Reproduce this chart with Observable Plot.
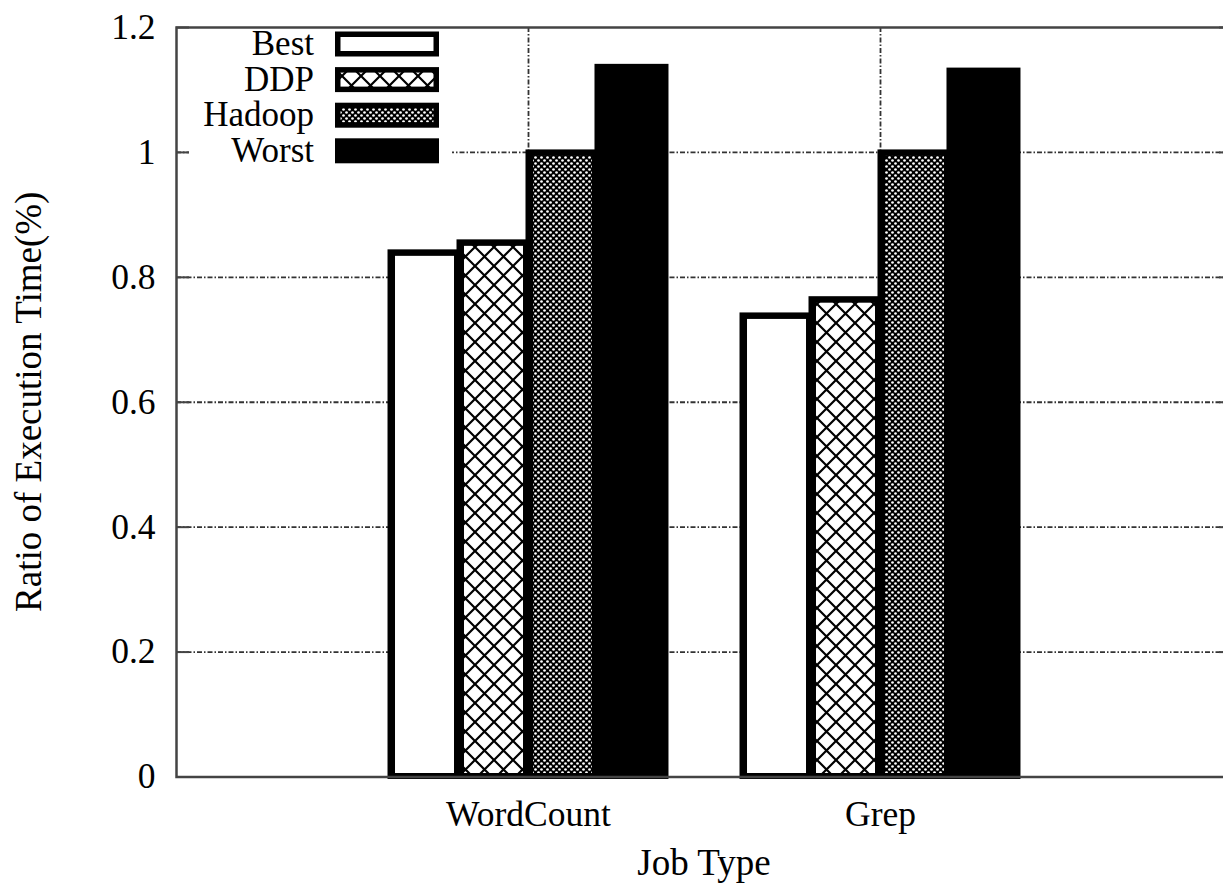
<!DOCTYPE html>
<html>
<head>
<meta charset="utf-8">
<script src="https://cdn.jsdelivr.net/npm/d3@7"></script>
<script src="https://cdn.jsdelivr.net/npm/@observablehq/plot@0.6"></script>
<style>
  html, body { margin: 0; padding: 0; background: #fff; overflow: hidden; }
  #chart svg { display: block; max-width: none !important; font-family: "Liberation Serif", "Times New Roman", serif; }
</style>
</head>
<body>
<div id="chart"></div>
<script>
// ---- data ----
const categories = ["WordCount", "Grep"];
const series = ["Best", "DDP", "Hadoop", "Worst"];
const best = [0.840, 0.739];
const ddp = [0.856, 0.765];
const hadoop = [1.0, 1.0];
const worst = [1.137, 1.131];
const yTicks = [0, 0.2, 0.4, 0.6, 0.8, 1, 1.2];
const yTickLabels = ["0", "0.2", "0.4", "0.6", "0.8", "1", "1.2"];
const xLabel = "Job Type";
const yLabel = "Ratio of Execution Time(%)";

// ---- styling ----
const seriesValues = [best, ddp, hadoop, worst];
const fills = ["white", "url(#pDDP)", "url(#pHadoop)", "black"];
const W = 1240, H = 888;
const mL = 176, mR = 8, mT = 27, mB = 111.5;
const innerW = W - mL - mR;
const barW = 0.196;
const FONT = "'Liberation Serif', 'Times New Roman', serif";
const gridStyle = {stroke: "#333", strokeWidth: 1.8, strokeDasharray: "5,2,1.5,2"};

const table = categories.flatMap((c, ci) =>
  series.map((s, si) => ({category: c, series: s, ci, si, value: seriesValues[si][ci]}))
);
const x1 = d => d.ci + 1 - 2 * barW + d.si * barW;
const x2 = d => x1(d) + barW;

const chart = Plot.plot({
  width: W,
  height: H,
  marginLeft: mL,
  marginRight: mR,
  marginTop: mT,
  marginBottom: mB,
  style: {fontFamily: FONT, fontSize: "35.5px", background: "white", color: "black", maxWidth: "none"},
  x: {domain: [0, categories.length + 1], axis: null},
  y: {domain: [0, 1.2], axis: null},
  color: {domain: series, range: fills},
  marks: [
    Plot.ruleY(yTicks.filter(t => t > 0 && t < 1.2), gridStyle),
    Plot.ruleX(categories.map((c, i) => i + 1), gridStyle),
    Plot.rect(table, {x1, x2, y1: 0, y2: "value", fill: "black", inset: -2.5}),
    Plot.rect(table, {x1, x2, y1: 0, y2: "value", fill: "series",
      insetLeft: 5, insetRight: 5, insetTop: 4, insetBottom: 3.5}),
    Plot.frame({stroke: "#444", strokeWidth: 2.5}),
    Plot.ruleY(yTicks, {stroke: "#444", strokeWidth: 2, insetRight: innerW - 13}),
    Plot.ruleY(yTicks, {stroke: "#444", strokeWidth: 2, insetLeft: innerW - 13}),
    Plot.axisY({ticks: yTicks, tickFormat: d => yTickLabels[yTicks.indexOf(d)],
      tickSize: 0, tickPadding: 21, label: null, fontSize: 35.5}),
    Plot.axisX({ticks: categories.map((c, i) => i + 1), tickFormat: d => categories[d - 1],
      tickSize: 0, tickPadding: 23.5, label: null, fontSize: 35.5})
  ]
});

document.getElementById("chart").appendChild(chart);
const svg = d3.select(chart);

// patterns
const defs = svg.insert("defs", ":first-child");
const pD = defs.append("pattern").attr("id", "pDDP").attr("patternUnits", "userSpaceOnUse")
  .attr("width", 19).attr("height", 19);
pD.append("rect").attr("width", 19).attr("height", 19).attr("fill", "white");
pD.append("path").attr("d", "M-2,-2L21,21M21,-2L-2,21").attr("stroke", "black").attr("stroke-width", 2.2);
const pH = defs.append("pattern").attr("id", "pHadoop").attr("patternUnits", "userSpaceOnUse")
  .attr("width", 6).attr("height", 6);
pH.append("rect").attr("width", 6).attr("height", 6).attr("fill", "black");
pH.append("circle").attr("cx", 1.5).attr("cy", 1.5).attr("r", 1.35).attr("fill", "white");
pH.append("circle").attr("cx", 4.5).attr("cy", 4.5).attr("r", 1.35).attr("fill", "white");

// legend
const lg = svg.append("g").attr("font-family", FONT).attr("font-size", 35);
lg.append("rect").attr("x", 189).attr("y", 29.5).attr("width", 263).attr("height", 142).attr("fill", "white");
series.forEach((s, i) => {
  const base = 55 + i * 35.6;
  const c = base - 11;
  lg.append("text").attr("x", 314).attr("y", base).attr("text-anchor", "end").attr("fill", "black").text(s);
  lg.append("rect").attr("x", 335).attr("y", c - 12.5).attr("width", 104).attr("height", 25).attr("fill", "black");
  lg.append("rect").attr("x", 340.5).attr("y", c - 7).attr("width", 93).attr("height", 14).attr("fill", fills[i]);
});

// axis titles
svg.append("text").attr("x", mL + innerW / 2).attr("y", 875).attr("text-anchor", "middle")
  .attr("font-family", FONT).attr("font-size", 37).attr("fill", "black").text(xLabel);
svg.append("text").attr("transform", `translate(41,${(mT + H - mB) / 2}) rotate(-90)`)
  .attr("text-anchor", "middle").attr("font-family", FONT).attr("font-size", 37)
  .attr("fill", "black").text(yLabel);
</script>
</body>
</html>
